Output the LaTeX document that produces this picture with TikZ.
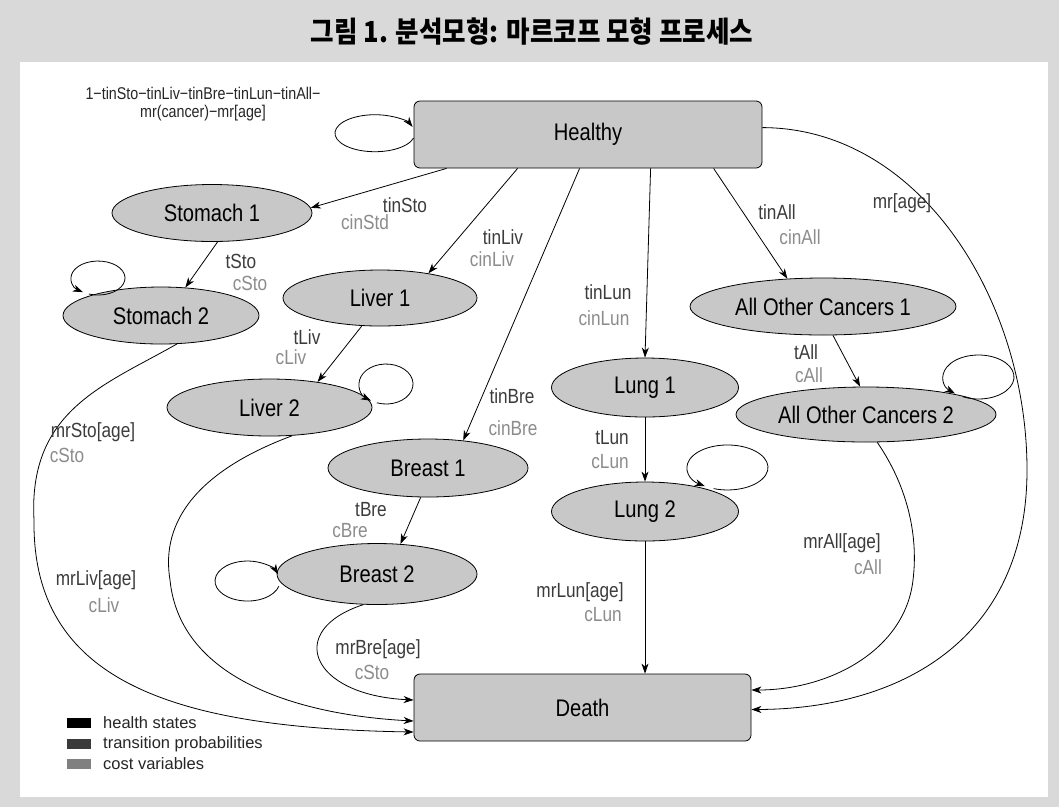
\documentclass[tikz,border=0pt]{standalone}
\usepackage{fontspec}
\setmainfont{Liberation Sans}
\newfontfamily\narrowfont{Liberation Sans}[FakeStretch=0.84]
\newfontfamily\cjkfont{Noto Sans CJK KR}[FakeStretch=0.88]
\usetikzlibrary{arrows.meta,calc,shapes.geometric}
\definecolor{bggray}{HTML}{D9D9D9}
\definecolor{nodegray}{HTML}{C8C8C8}
\definecolor{tcol}{HTML}{3C3C3C}
\definecolor{ccol}{HTML}{8C8C8C}
\definecolor{lgdark}{HTML}{3A3A3A}
\definecolor{lggray}{HTML}{808080}
\begin{document}
\begin{tikzpicture}[x=1pt,y=-1pt,
  state/.style={ellipse,draw=black,fill=nodegray,line width=0.8pt,inner sep=0pt,
    font=\narrowfont\fontsize{24}{24}\selectfont},
  box/.style={rectangle,rounded corners=6pt,draw=black,fill=nodegray,line width=0.8pt,inner sep=0pt,
    font=\narrowfont\fontsize{24}{24}\selectfont},
  arr/.style={-{Stealth[length=10pt,width=7pt,inset=3pt]},line width=0.8pt},
  tlab/.style={text=tcol,inner sep=0pt,font=\narrowfont\fontsize{20.5}{21}\selectfont},
  clab/.style={text=ccol,inner sep=0pt,font=\narrowfont\fontsize{20.5}{21}\selectfont},
  legtxt/.style={anchor=west,inner sep=0pt,text=black!85,font=\fontsize{16.5}{17}\selectfont},
  legbox/.style={minimum width=24pt,minimum height=10pt,inner sep=0pt}
]
\useasboundingbox (0,0) rectangle (1059,807);
\fill[bggray] (0,0) rectangle (1059,807);
\fill[white] (20,62) rectangle (1048,797);

% title
\node[font=\cjkfont\bfseries\fontsize{29}{30}\selectfont] (title) at (532,32) {그림 1. 분석모형: 마르코프 모형 프로세스};

% nodes
\node[box,minimum width=348pt,minimum height=67pt] (H) at (588,134.5) {Healthy};
\node[box,minimum width=337pt,minimum height=67pt] (D) at (582.5,707.5) {Death};
\node[state,minimum width=200pt,minimum height=57pt] (S1) at (212,213) {Stomach 1};
\node[state,minimum width=196pt,minimum height=57pt] (S2) at (161,315.5) {Stomach 2};
\node[state,minimum width=194pt,minimum height=56pt] (L1) at (380,298) {Liver 1};
\node[state,minimum width=205pt,minimum height=57pt] (L2) at (269.5,407.5) {Liver 2};
\node[state,minimum width=200pt,minimum height=58pt] (B1) at (428,468) {Breast 1};
\node[state,minimum width=200pt,minimum height=61pt] (B2) at (377,574) {Breast 2};
\node[state,minimum width=187pt,minimum height=59pt] (Lu1) at (645,387.5) {Lung 1};
\node[state,minimum width=187pt,minimum height=59pt] (Lu2) at (645,511.5) {Lung 2};
\node[state,minimum width=266pt,minimum height=57pt] (A1) at (823,306.5) {All Other Cancers 1};
\node[state,minimum width=260pt,minimum height=55pt] (A2) at (866,414.5) {All Other Cancers 2};

% transitions out of Healthy
\draw[arr] ($(H.south west)+(33,0)$) -- (S1.3);
\draw[arr] ($(H.south west)+(104,0)$) -- (L1.27);
\draw[arr] ($(H.south west)+(166,0)$) -- (B1.38);
\draw[arr] ($(H.south west)+(237,0)$) -- (Lu1.north);
\draw[arr] ($(H.south west)+(300,0)$) -- (A1.142);

% stage transitions
\draw[arr] (S1.-79) -- (S2.49);
\draw[arr] (L1.237) -- (L2.28);
\draw[arr] (B1.256) -- (B2.52);
\draw[arr] (Lu1.south) -- (Lu2.north);
\draw[arr] (A1.289) -- (A2.102);

% self loops
\draw[arr] ($(H.west)+(0,3.5)$) arc[start angle=-15, end angle=-340, x radius=40pt, y radius=18.5pt];
\draw[arr] ($(S2)+(-72.2,-21.5)$) arc[start angle=250, end angle=596, x radius=27pt, y radius=17pt];
\draw[arr] ($(L2)+(107.3,-4.7)$) arc[start angle=250, end angle=596, x radius=27pt, y radius=20pt];
\draw[arr] ($(B2)+(-98.1,12.2)$) arc[start angle=-15, end angle=-340, x radius=32.5pt, y radius=20pt];
\draw[arr] ($(Lu2)+(68.65,-22.9)$) arc[start angle=250, end angle=596, x radius=40.5pt, y radius=22.5pt];
\draw[arr] ($(A2)+(96.4,-17.9)$) arc[start angle=243, end angle=588.5, x radius=35.5pt, y radius=22pt];

% to Death
\draw[arr] (S2.-61) .. controls (105,385) and (28,410) .. (34,520) .. controls (32,680) and (170,728) .. ($(D.west)+(0,24.5)$);
\draw[arr] (L2.-51) .. controls (200,470) and (160,520) .. (170,580) .. controls (180,680) and (300,715) .. ($(D.west)+(0,13.5)$);
\draw[arr] (B2.246) .. controls (285,630) and (310,695) .. ($(D.west)+(0,-7.5)$);
\draw[arr] (Lu2.south) -- (Lu2.south |- D.north);
\draw[arr] (A2.-68) .. controls (910,490) and (918,540) .. (913,580) .. controls (905,650) and (830,690) .. ($(D.east)+(0,-17.5)$);
\draw[arr] ($(H.north east)+(0,27)$) .. controls (920,128) and (1027,300) .. (1027,470) .. controls (1027,640) and (900,709) .. ($(D.east)+(0,2)$);

% labels
\node[text=black!85,inner sep=0pt,align=center,font=\narrowfont\fontsize{17}{18}\selectfont] (lself) at (203,104) {1−tinSto−tinLiv−tinBre−tinLun−tinAll−\\mr(cancer)−mr[age]};
\node[tlab] (l1) at (405,205) {tinSto};
\node[clab] (l2) at (365,222) {cinStd};
\node[tlab] (l3) at (503,237) {tinLiv};
\node[clab] (l4) at (492,259) {cinLiv};
\node[tlab] (l5) at (512,396) {tinBre};
\node[clab] (l6) at (513,428) {cinBre};
\node[tlab] (l7) at (608,292) {tinLun};
\node[clab] (l8) at (604,318) {cinLun};
\node[tlab] (l9) at (777,212) {tinAll};
\node[clab] (l10) at (800,237) {cinAll};
\node[tlab] (l11) at (902,203) {mr[age]};
\node[tlab] (l12) at (241,261) {tSto};
\node[clab] (l13) at (250,283) {cSto};
\node[tlab] (l14) at (307,337) {tLiv};
\node[clab] (l15) at (291,357) {cLiv};
\node[tlab] (l16) at (371,510) {tBre};
\node[clab] (l17) at (350,531) {cBre};
\node[tlab] (l18) at (612,438) {tLun};
\node[clab] (l19) at (610,462) {cLun};
\node[tlab] (l20) at (806,352) {tAll};
\node[clab] (l21) at (809,375) {cAll};
\node[tlab] (l22) at (93,432) {mrSto[age]};
\node[clab] (l23) at (67,455) {cSto};
\node[tlab] (l24) at (96,580) {mrLiv[age]};
\node[clab] (l25) at (104,605) {cLiv};
\node[tlab] (l26) at (378,649) {mrBre[age]};
\node[clab] (l27) at (372,672) {cSto};
\node[tlab] (l28) at (580,592) {mrLun[age]};
\node[clab] (l29) at (603,615) {cLun};
\node[tlab] (l30) at (842,543) {mrAll[age]};
\node[clab] (l31) at (868,567) {cAll};

% legend
\node[legbox,fill=black] (g1) at (79,723) {};
\node[legbox,fill=lgdark] (g2) at (79,744) {};
\node[legbox,fill=lggray] (g3) at (79,764) {};
\node[legtxt] (t1) at (103,723) {health states};
\node[legtxt] (t2) at (103,744) {transition probabilities};
\node[legtxt] (t3) at (103,764) {cost variables};
\end{tikzpicture}
\end{document}
